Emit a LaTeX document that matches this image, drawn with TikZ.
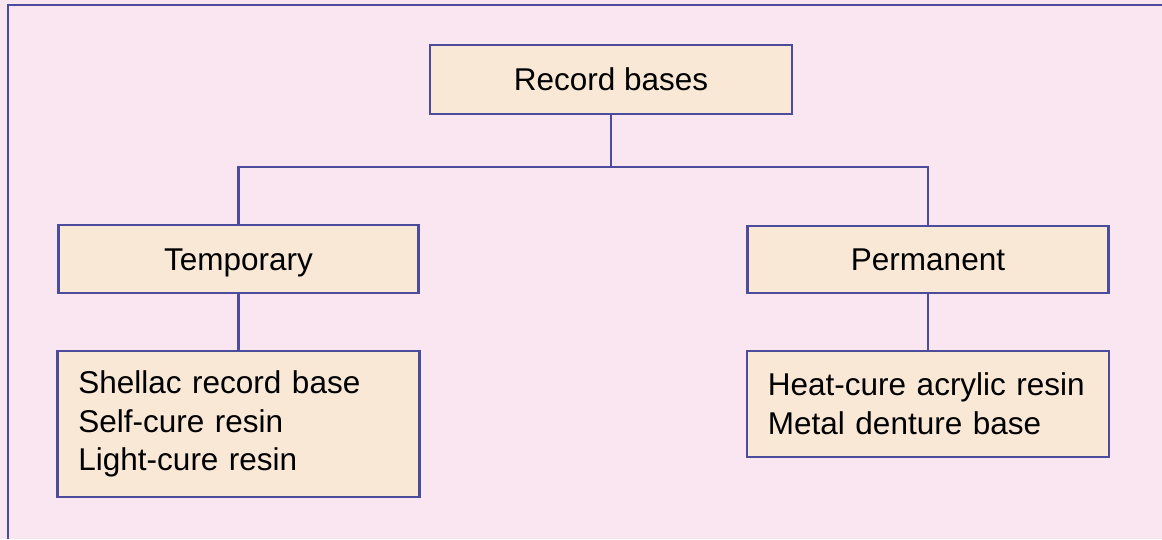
\documentclass[tikz,border=0pt]{standalone}
\usepackage{fontspec}
\setmainfont{Liberation Sans}
\usepackage{tikz}

\definecolor{bgpink}{HTML}{FAE6F0}
\definecolor{boxfill}{HTML}{F9E8D6}
\definecolor{boxline}{HTML}{4C4C9C}

\begin{document}
\begin{tikzpicture}[x=0.025cm, y=-0.025cm,
	font=\fontsize{22.4pt}{27.6pt}\selectfont,
	box/.style={draw=boxline, fill=boxfill, line width=1.8pt, inner sep=0pt},
	titlebox/.style={box, text height=16pt, text depth=0pt},
	listbox/.style={box, align=left, text width=8cm, inner xsep=0.525cm},
	link/.style={draw=boxline, line width=1.8pt}]
	% The background and the frame
	\fill[bgpink] (0, 0) rectangle (1162, 539);
	\useasboundingbox (0, 0) rectangle (1162, 539);
	\draw[boxline, line width=1.8pt] (8, 539) -- (8, 5) -- (1162, 5);
	% The root
	\node[titlebox, minimum width=9.05cm, minimum height=1.725cm] (root) at (611, 79.5) {Record bases};
	% The two kinds
	\node[titlebox, minimum width=9cm, minimum height=1.7cm] (temp) at (238.5, 259) {Temporary};
	\node[titlebox, minimum width=9.025cm, minimum height=1.675cm] (perm) at (928, 259.5) {Permanent};
	% The materials of each kind
	\node[listbox, minimum width=9.05cm, minimum height=3.65cm] (templist) at (238.5, 424) {Shellac record base\\Self-cure resin\\Light-cure resin};
	\node[listbox, minimum width=9.05cm, minimum height=2.65cm] (permlist) at (928, 404) {Heat-cure acrylic resin\\Metal denture base};
	% The connectors
	\coordinate (split) at (611, 167);
	\draw[link] (root.south) -- (split);
	\draw[link] (temp.north) |- (split) -| (perm.north);
	\draw[link] (temp.south) -- (templist.north);
	\draw[link] (perm.south) -- (permlist.north);
\end{tikzpicture}
\end{document}
